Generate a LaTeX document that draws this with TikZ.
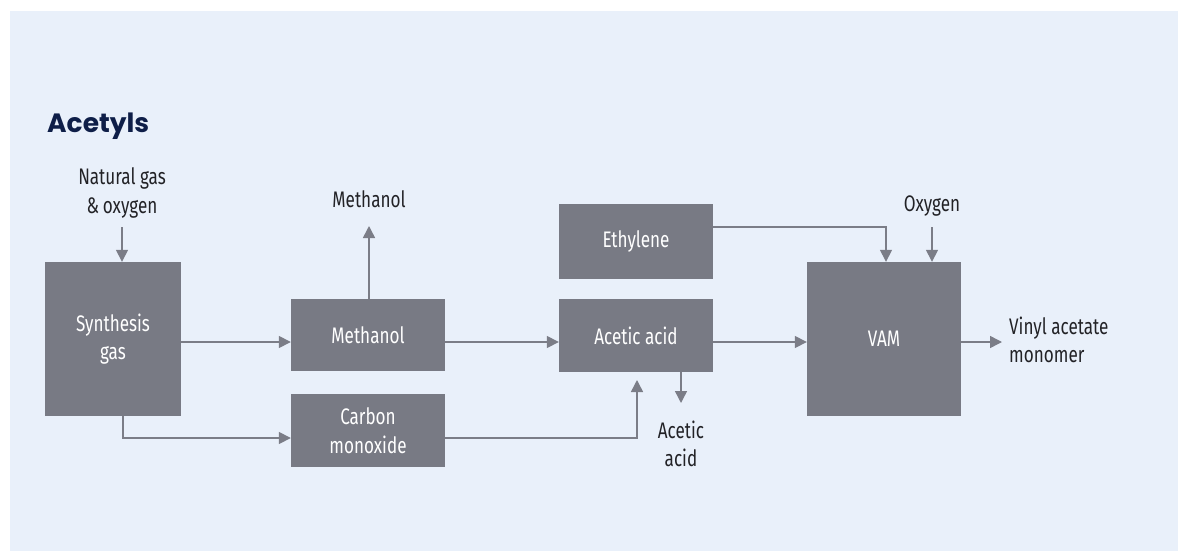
\documentclass[tikz,border=0pt]{standalone}
\usepackage{fontspec}
\setmainfont{Fira Sans}[FakeStretch=0.76]
\newfontfamily\headfont{Poppins}
\usetikzlibrary{arrows.meta}

\definecolor{panel}{RGB}{233,240,250}
\definecolor{boxgray}{RGB}{120,122,132}
\definecolor{linegray}{RGB}{123,125,135}
\definecolor{labeltext}{RGB}{34,34,38}
\definecolor{navy}{RGB}{14,30,72}

\tikzset{
  unit/.style={fill=boxgray, text=white, inner sep=0pt, align=center,
    font=\fontsize{22.5}{28.5}\selectfont},
  lbl/.style={text=labeltext, inner sep=0pt, align=center,
    font=\fontsize{22.5}{28.5}\selectfont},
  flow/.style={draw=linegray, line width=1.5pt,
    -{Triangle[length=12pt,width=12pt]}},
  feed/.style={draw=linegray, line width=1.5pt}
}

\begin{document}
\begin{tikzpicture}[x=1pt, y=-1pt]
  \useasboundingbox (0,0) rectangle (1178,551);
  \fill[panel] (10,11) rectangle (1178,551);

  % heading
  \node[anchor=base west, inner sep=0pt, text=navy,
        font=\headfont\bfseries\fontsize{26.5}{30}\selectfont] (title) at (47,132) {Acetyls};

  % process units
  \node[unit, minimum width=136pt, minimum height=154pt] (syn)  at (113,339)   {Synthesis\\gas};
  \node[unit, minimum width=154pt, minimum height=72pt]  (meth) at (368,335)   {Methanol};
  \node[unit, minimum width=154pt, minimum height=73pt]  (co)   at (368,430.5) {Carbon\\monoxide};
  \node[unit, minimum width=154pt, minimum height=75pt]  (eth)  at (636,241.5) {Ethylene};
  \node[unit, minimum width=154pt, minimum height=73pt]  (acid) at (636,335.5) {Acetic acid};
  \node[unit, minimum width=154pt, minimum height=154pt] (vam)  at (884,339)   {VAM};

  % stream labels
  \node[lbl] (ng)    at (122,193) {Natural gas\\\&\,oxygen};
  \node[lbl] (mout)  at (369,199) {Methanol};
  \node[lbl] (aout)  at (681,444) {Acetic\\acid};
  \node[lbl] (oxy)   at (932,206) {Oxygen};
  \node[lbl, align=left, anchor=west] (vout) at (1009,340) {Vinyl acetate\\monomer};

  % helper points
  \coordinate (main)   at (0,342);
  \coordinate (ngend)  at (122,227);
  \coordinate (mtop)   at (369,226);
  \coordinate (cojoin) at (637,438);
  \coordinate (cotip)  at (637,380);
  \coordinate (abot)   at (681,403);
  \coordinate (ejoin)  at (886,227);
  \coordinate (oxend)  at (932,227);
  \coordinate (vend)   at (1002,342);
  \coordinate (sdrop)  at (123,438);

  % connectors
  \draw[flow] (ngend) -- (ngend |- syn.north);
  \draw[flow] (syn.east |- main) -- (meth.west |- main);
  \draw[flow] (mtop |- meth.north) -- (mtop);
  \draw[flow] (meth.east |- main) -- (acid.west |- main);
  \draw[flow] (sdrop |- syn.south) -- (sdrop) -- (co.west |- sdrop);
  \draw[flow] (co.east |- cojoin) -- (cojoin) -- (cotip);
  \draw[flow] (abot |- acid.south) -- (abot);
  \draw[flow] (acid.east |- main) -- (vam.west |- main);
  \draw[flow] (eth.east |- ejoin) -- (ejoin) -- (ejoin |- vam.north);
  \draw[flow] (oxend) -- (oxend |- vam.north);
  \draw[flow] (vam.east |- vend) -- (vend);
\end{tikzpicture}
\end{document}
